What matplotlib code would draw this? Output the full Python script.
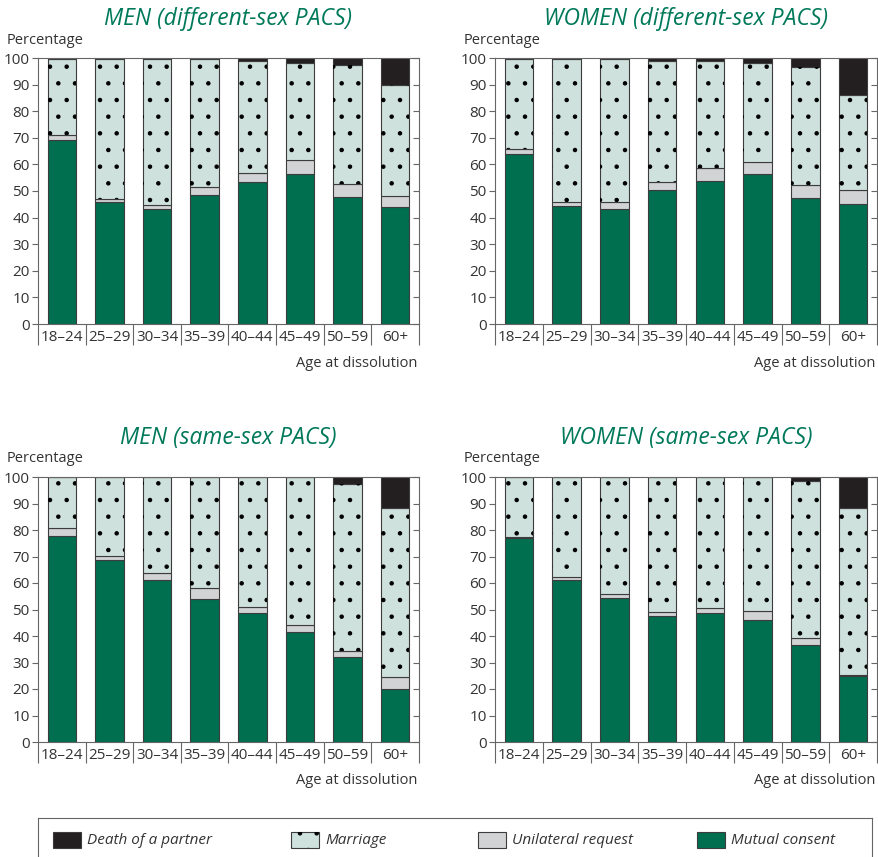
import numpy as np
import matplotlib
matplotlib.use("Agg")
import matplotlib.pyplot as plt
from matplotlib.patches import Rectangle

plt.rcParams['font.family'] = ['Open Sans', 'DejaVu Sans']
plt.rcParams['hatch.linewidth'] = 0.8

# data (percentages)
ages = ['18–24', '25–29', '30–34', '35–39', '40–44', '45–49', '50–59', '60+']
titles = ['MEN (different-sex PACS)', 'WOMEN (different-sex PACS)',
          'MEN (same-sex PACS)', 'WOMEN (same-sex PACS)']
categories = ['Death of a partner', 'Marriage', 'Unilateral request', 'Mutual consent']

mutual_men_diff = [69.0, 45.7, 43.1, 48.6, 53.4, 56.3, 47.9, 43.9]
unilat_men_diff = [2.0, 1.2, 1.5, 3.0, 3.5, 5.4, 4.9, 4.1]
marriage_men_diff = [28.5, 52.6, 54.9, 47.9, 42.1, 36.5, 44.7, 41.8]
death_men_diff = [0.5, 0.5, 0.5, 0.5, 1.0, 1.8, 2.5, 10.2]

mutual_women_diff = [63.9, 44.4, 43.1, 50.3, 53.9, 56.3, 47.4, 45.0]
unilat_women_diff = [2.0, 1.3, 2.6, 3.1, 4.9, 4.7, 4.9, 5.4]
marriage_women_diff = [33.6, 53.8, 53.8, 45.6, 40.2, 37.2, 44.2, 35.8]
death_women_diff = [0.5, 0.5, 0.5, 1.0, 1.0, 1.8, 3.5, 13.8]

mutual_men_same = [77.9, 68.8, 61.3, 54.0, 48.6, 41.6, 32.0, 20.1]
unilat_men_same = [3.0, 1.4, 2.3, 4.3, 2.4, 2.5, 2.5, 4.3]
marriage_men_same = [19.1, 29.8, 36.4, 41.7, 49.0, 55.9, 62.9, 64.0]
death_men_same = [0.0, 0.0, 0.0, 0.0, 0.0, 0.0, 2.6, 11.6]

mutual_women_same = [77.1, 61.2, 54.5, 47.4, 48.7, 46.2, 36.7, 24.9]
unilat_women_same = [0.3, 1.2, 1.5, 1.5, 1.8, 3.2, 2.5, 0.2]
marriage_women_same = [22.6, 37.6, 44.0, 51.1, 49.5, 50.6, 59.3, 63.3]
death_women_same = [0.0, 0.0, 0.0, 0.0, 0.0, 0.0, 1.5, 11.6]

panels = [
    (mutual_men_diff, unilat_men_diff, marriage_men_diff, death_men_diff),
    (mutual_women_diff, unilat_women_diff, marriage_women_diff, death_women_diff),
    (mutual_men_same, unilat_men_same, marriage_men_same, death_men_same),
    (mutual_women_same, unilat_women_same, marriage_women_same, death_women_same),
]

# styles
GREEN = '#006f50'
TITLE_GREEN = '#00795a'
MARRIAGE = '#cfe1dc'
UNILAT = '#d2d3d5'
DEATH = '#231f20'
EDGE = '#3c3c3c'
SPINE = '#666666'
TEXT = '#333333'

W, H = 879, 857
fig = plt.figure(figsize=(W / 100, H / 100), dpi=100)


def px_axes(left, top, right, bottom):
    return fig.add_axes([left / W, 1 - bottom / H, (right - left) / W, (bottom - top) / H])


# panel boxes in pixels: left, top, right, bottom
boxes = [(38, 58, 419, 324), (495, 58, 877, 324),
         (38, 477, 419, 742), (495, 477, 877, 742)]

x = np.arange(len(ages))
for (l, t, r, b), title, (mutual, unilat, marriage, death) in zip(boxes, titles, panels):
    ax = px_axes(l, t, r, b)
    bottom = np.zeros(len(ages))
    for vals, color, dots in [(mutual, GREEN, False), (unilat, UNILAT, False),
                              (marriage, MARRIAGE, True), (death, DEATH, False)]:
        vals = np.array(vals)
        ax.bar(x, vals, 0.6, bottom=bottom, color=color, edgecolor=EDGE, linewidth=0.8, zorder=2)
        if dots:
            ax.bar(x, vals, 0.6, bottom=bottom, facecolor='none', edgecolor='black',
                   hatch='.', linewidth=0, zorder=3)
        bottom += vals

    ax.set_xlim(-0.5, 7.5)
    ax.set_ylim(0, 100)
    ax.set_yticks(np.arange(0, 101, 10))
    ax.set_xticks(x)
    ax.set_xticklabels(ages)
    ax.set_xticks(np.arange(-0.5, 8, 1), minor=True)
    ax.tick_params(axis='x', which='major', length=0, pad=4, labelsize=11, labelcolor=TEXT)
    ax.tick_params(axis='x', which='minor', length=15, width=0.8, color=SPINE, direction='out')
    ax.tick_params(axis='y', which='major', left=True, right=True, length=4, width=0.8,
                   color=SPINE, labelsize=11, labelcolor=TEXT, pad=2, direction='out')
    for sp in ax.spines.values():
        sp.set_color(SPINE)
        sp.set_linewidth(0.8)
    # right-side ticks point inwards
    for tick in ax.yaxis.get_major_ticks():
        tick.tick2line.set_marker(matplotlib.lines.TICKLEFT)

    fig.text((l + r) / 2 / W, 1 - (t - 39) / H, title, ha='center', va='center',
             fontsize=16.5, style='italic', color=TITLE_GREEN)
    fig.text((l - 31) / W, 1 - (t - 18) / H, 'Percentage', ha='left', va='center',
             fontsize=10.5, color=TEXT)
    fig.text((r - 2) / W, 1 - (b + 39) / H, 'Age at dissolution', ha='right', va='center',
             fontsize=10.5, color=TEXT)

# legend strip at the bottom
lax = px_axes(38, 818, 872, 880)
lax.set_xlim(38, 872)
lax.set_ylim(880, 818)
lax.set_xticks([])
lax.set_yticks([])
lax.spines['bottom'].set_visible(False)
for sp in ['top', 'left', 'right']:
    lax.spines[sp].set_color(SPINE)
    lax.spines[sp].set_linewidth(0.8)

legend_x = [53, 291, 478, 697]
legend_colors = [DEATH, MARRIAGE, UNILAT, GREEN]
for lx, lab, col in zip(legend_x, categories, legend_colors):
    lax.add_patch(Rectangle((lx, 832), 28, 16, facecolor=col, edgecolor=EDGE, linewidth=0.8))
    if lab == 'Marriage':
        lax.add_patch(Rectangle((lx, 832), 28, 16, facecolor='none', edgecolor='black',
                                hatch='.', linewidth=0))
    lax.text(lx + 34, 840, lab, ha='left', va='center', fontsize=11,
             style='italic', color=TEXT)

fig.savefig('out.png', dpi=100)
